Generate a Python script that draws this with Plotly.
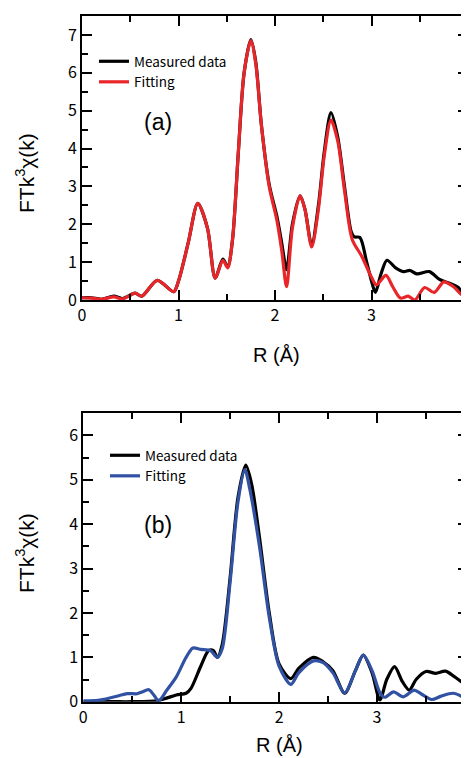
import plotly.graph_objects as go

# ---------- Panel (a) ----------
a_meas_r = [0.0, 0.1, 0.2, 0.33, 0.42, 0.55, 0.62, 0.78, 0.95, 1.0, 1.1, 1.2, 1.3, 1.38, 1.46, 1.51, 1.56, 1.62, 1.68, 1.75, 1.8, 1.86, 1.94, 2.02, 2.07, 2.12, 2.18, 2.26, 2.31, 2.38, 2.45, 2.51, 2.58, 2.65, 2.72, 2.79, 2.82, 2.88, 2.95, 3.0, 3.04, 3.1, 3.16, 3.25, 3.33, 3.4, 3.47, 3.6, 3.7, 3.8, 3.9, 3.96, 4.0]
a_meas_y = [0.06, 0.06, 0.02, 0.1, 0.04, 0.18, 0.1, 0.52, 0.22, 0.5, 1.5, 2.55, 1.9, 0.58, 1.08, 0.88, 1.6, 3.9, 6.0, 6.88, 6.3, 4.6, 3.05, 2.2, 1.5, 0.8, 2.0, 2.75, 2.4, 1.45, 2.5, 3.9, 4.95, 4.3, 3.0, 1.8, 1.67, 1.65, 1.0, 0.5, 0.2, 0.7, 1.05, 0.85, 0.75, 0.78, 0.69, 0.75, 0.55, 0.45, 0.33, 0.14, 0.3]
a_fit_r = [0.0, 0.1, 0.2, 0.33, 0.42, 0.55, 0.62, 0.78, 0.95, 1.0, 1.1, 1.2, 1.3, 1.38, 1.46, 1.51, 1.56, 1.62, 1.68, 1.75, 1.8, 1.86, 1.94, 2.02, 2.07, 2.12, 2.18, 2.26, 2.31, 2.38, 2.45, 2.51, 2.58, 2.65, 2.72, 2.8, 2.9, 3.0, 3.05, 3.15, 3.22, 3.3, 3.38, 3.45, 3.55, 3.65, 3.75, 3.85, 3.95, 4.0]
a_fit_y = [0.06, 0.05, 0.02, 0.08, 0.03, 0.18, 0.1, 0.52, 0.22, 0.5, 1.5, 2.55, 1.9, 0.58, 1.05, 0.85, 1.6, 3.9, 6.0, 6.85, 6.25, 4.6, 3.0, 2.1, 1.3, 0.35, 1.9, 2.75, 2.4, 1.4, 2.4, 3.8, 4.75, 4.2, 2.9, 1.6, 1.15, 0.6, 0.4, 0.65, 0.35, 0.05, 0.1, 0.0, 0.33, 0.2, 0.48, 0.35, 0.12, 0.35]

# ---------- Panel (b) ----------
b_meas_r = [0.0, 0.3, 0.5, 0.75, 0.85, 0.95, 1.05, 1.1, 1.2, 1.28, 1.33, 1.37, 1.42, 1.5, 1.58, 1.66, 1.72, 1.8, 1.9, 2.0, 2.12, 2.2, 2.35, 2.45, 2.55, 2.67, 2.78, 2.86, 2.95, 3.03, 3.1, 3.18, 3.26, 3.33, 3.4, 3.5, 3.6, 3.7, 3.8, 3.93]
b_meas_y = [0.0, 0.0, 0.0, 0.02, 0.08, 0.15, 0.19, 0.3, 0.8, 1.15, 1.15, 1.0, 1.3, 2.8, 4.6, 5.33, 4.9, 3.7, 2.0, 0.85, 0.52, 0.75, 1.0, 0.9, 0.7, 0.19, 0.7, 1.05, 0.65, 0.04, 0.5, 0.79, 0.45, 0.26, 0.5, 0.68, 0.64, 0.69, 0.55, 0.34]
b_fit_r = [0.0, 0.15, 0.3, 0.45, 0.55, 0.6, 0.67, 0.72, 0.77, 0.85, 0.95, 1.05, 1.12, 1.2, 1.3, 1.37, 1.42, 1.5, 1.58, 1.65, 1.7, 1.8, 1.9, 2.0, 2.12, 2.2, 2.35, 2.45, 2.55, 2.67, 2.78, 2.86, 2.95, 3.03, 3.08, 3.17, 3.27, 3.38, 3.45, 3.56, 3.65, 3.78, 3.93]
b_fit_y = [0.02, 0.03, 0.1, 0.18, 0.18, 0.22, 0.27, 0.15, 0.02, 0.25, 0.56, 1.0, 1.21, 1.18, 1.15, 1.0, 1.2, 2.7, 4.5, 5.23, 4.8, 3.5, 1.9, 0.8, 0.39, 0.65, 0.92, 0.88, 0.65, 0.2, 0.7, 1.05, 0.7, 0.2, 0.1, 0.22, 0.11, 0.26, 0.18, 0.05, 0.12, 0.19, 0.04]

x_ticks = [0, 1, 2, 3, 4]
ya_ticks = [0, 1, 2, 3, 4, 5, 6, 7]
yb_ticks = [0, 1, 2, 3, 4, 5, 6]

# page body has an 8px margin: figure is sized to the visible window minus that offset
OFF = 8
W, H = 469 - OFF, 758 - OFF


def px(x):
    return (x - OFF) / W


def py(y):
    return 1 - (y - OFF) / H


tick_font = dict(family="Noto Sans CJK JP, DejaVu Sans", size=16, color="black")
title_font = "Liberation Sans, Arial"
leg_font = dict(family="Noto Sans CJK JP, DejaVu Sans", size=13.5, color="black")

fig = go.Figure()
line_style = dict(width=3.2, shape="spline", smoothing=0.8)

fig.add_trace(go.Scatter(x=a_meas_r, y=a_meas_y, mode="lines", name="Measured data",
                         line=dict(color="black", **line_style), xaxis="x", yaxis="y", legend="legend"))
fig.add_trace(go.Scatter(x=a_fit_r, y=a_fit_y, mode="lines", name="Fitting",
                         line=dict(color="#e8262a", **line_style), xaxis="x", yaxis="y", legend="legend"))
fig.add_trace(go.Scatter(x=b_meas_r, y=b_meas_y, mode="lines", name="Measured data",
                         line=dict(color="black", **line_style), xaxis="x2", yaxis="y2", legend="legend2"))
fig.add_trace(go.Scatter(x=b_fit_r, y=b_fit_y, mode="lines", name="Fitting",
                         line=dict(color="#3152a3", **line_style), xaxis="x2", yaxis="y2", legend="legend2"))

ax_common = dict(showline=True, linecolor="black", linewidth=2, mirror="allticks",
                 ticks="inside", ticklen=10, tickwidth=2, tickcolor="black",
                 showgrid=False, zeroline=False, tickfont=tick_font, automargin=False,
                 minor=dict(ticks="inside", ticklen=6, tickwidth=2, tickcolor="black", dtick=0.5, showgrid=False))

xa_dom = [px(82), px(468)]
xb_dom = [px(83.3), px(468)]
ya_dom = [py(300), py(16)]
yb_dom = [py(701.7), py(413.3)]

fig.update_layout(
    width=W, height=H, margin=dict(l=0, r=0, t=0, b=0, autoexpand=False),
    paper_bgcolor="white", plot_bgcolor="white",
    xaxis=dict(domain=xa_dom, range=[0, 4.0], tickvals=x_ticks, anchor="y", **ax_common),
    yaxis=dict(domain=ya_dom, range=[0, 7.5], tickvals=ya_ticks, anchor="x", **ax_common),
    xaxis2=dict(domain=xb_dom, range=[0, 3.93], tickvals=x_ticks, anchor="y2", **ax_common),
    yaxis2=dict(domain=yb_dom, range=[0, 6.5], tickvals=yb_ticks, anchor="x2", **ax_common),
    legend=dict(x=px(94), y=py(46), xanchor="left", yanchor="top", bgcolor="rgba(0,0,0,0)",
                font=leg_font, tracegroupgap=0, itemwidth=30),
    legend2=dict(x=px(105), y=py(440), xanchor="left", yanchor="top", bgcolor="rgba(0,0,0,0)",
                 font=leg_font, tracegroupgap=0, itemwidth=30),
    showlegend=True,
)

common_ann = dict(xref="paper", yref="paper", showarrow=False, xanchor="center", yanchor="middle")
ann = [
    dict(text="FTk<sup>3</sup>χ(k)", x=px(25), y=py(173), textangle=-90,
         font=dict(family=title_font, size=21, color="black"), **common_ann),
    dict(text="FTk<sup>3</sup>χ(k)", x=px(25), y=py(553), textangle=-90,
         font=dict(family=title_font, size=21, color="black"), **common_ann),
    dict(text="R (Å)", x=px(276), y=py(355),
         font=dict(family=title_font, size=20, color="black"), **common_ann),
    dict(text="R (Å)", x=px(279), y=py(745),
         font=dict(family=title_font, size=20, color="black"), **common_ann),
    dict(text="(a)", x=px(158), y=py(122),
         font=dict(family=title_font, size=23, color="black"), **common_ann),
    dict(text="(b)", x=px(158), y=py(525),
         font=dict(family=title_font, size=23, color="black"), **common_ann),
]
fig.update_layout(annotations=ann)

fig.write_html("out.html")
